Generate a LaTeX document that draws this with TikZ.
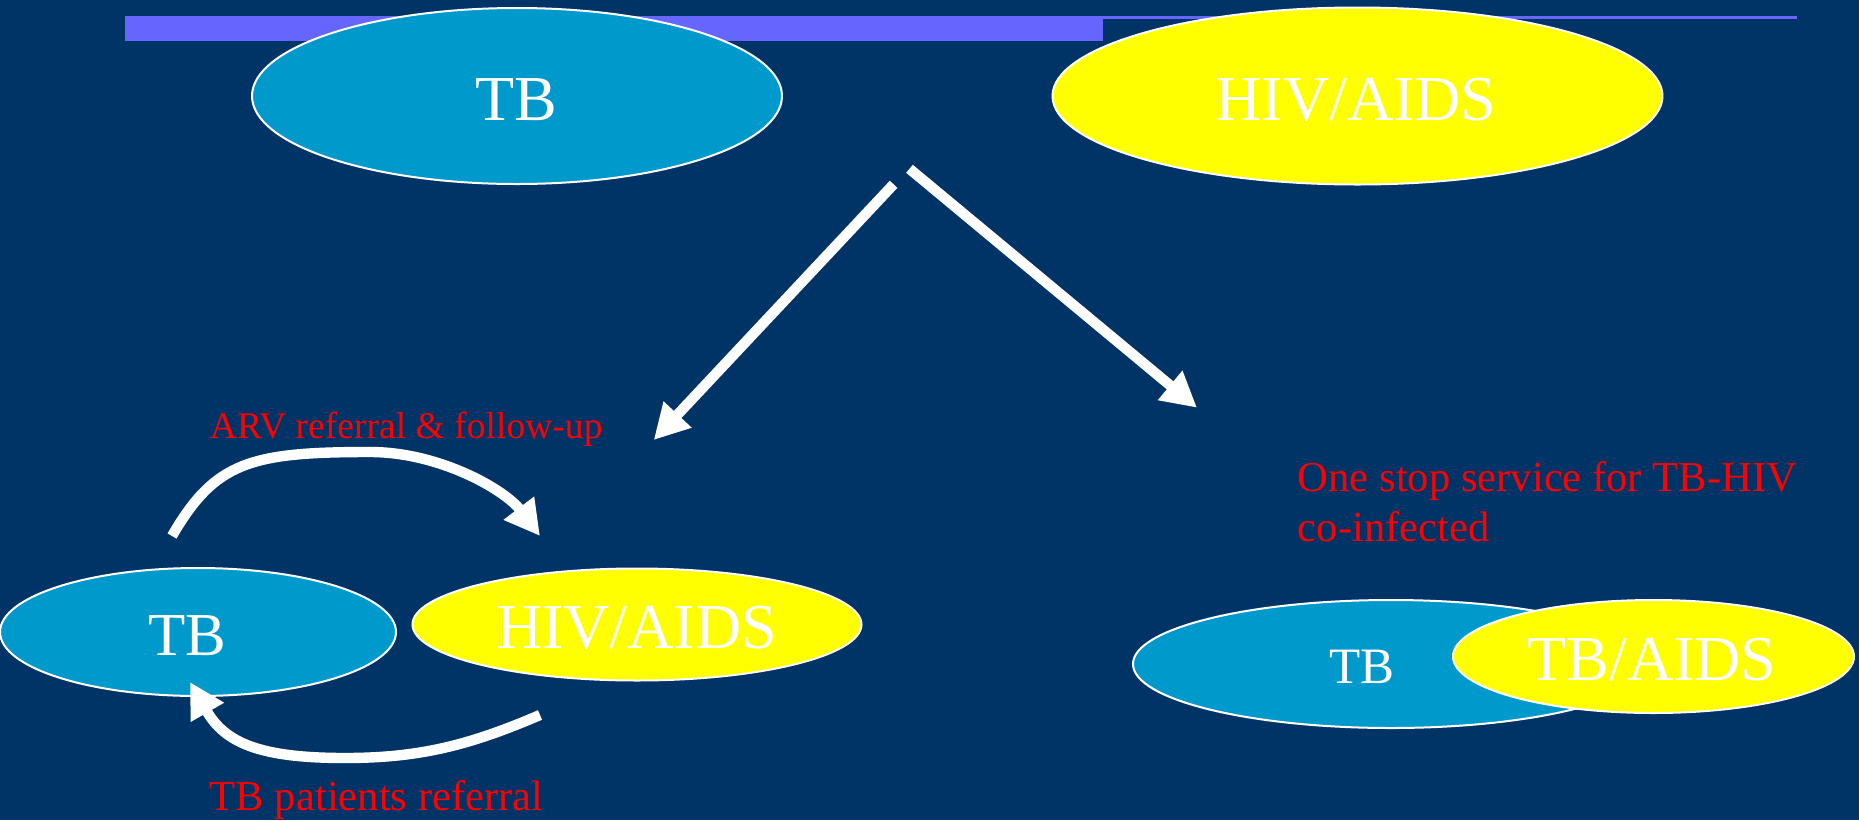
\documentclass[tikz,border=0pt]{standalone}
\usepackage{fontspec}
\setmainfont{Liberation Serif}
\usetikzlibrary{shapes.geometric,arrows.meta}
\definecolor{bg}{RGB}{0,51,102}
\definecolor{barblue}{RGB}{102,102,255}
\definecolor{tbblue}{RGB}{0,153,204}
\definecolor{hivyellow}{RGB}{255,255,0}
\definecolor{redtext}{RGB}{255,0,0}
\begin{document}
\begin{tikzpicture}[x=0.5pt,y=-0.5pt,
  disease/.style={ellipse, draw=white, line width=1pt, inner sep=0pt},
  bigtext/.style={text=white, font=\fontsize{32}{36}\selectfont, anchor=base, inner sep=0pt},
  rednote/.style={text=redtext, anchor=base west, inner sep=0pt},
  flow/.style={draw=white, line width=5.2pt, -{Triangle[width=18pt,length=17.5pt]}}]
\fill[bg] (0,0) rectangle (1859,820);
\useasboundingbox (0,0) rectangle (1859,820);
% title bar
\fill[barblue] (124.5,16) rectangle (1102.5,40.5);
\fill[barblue] (1102.5,16) rectangle (1797,18.5);
% top ellipses
\node[disease, fill=tbblue, minimum width=265pt, minimum height=88pt] (tb1) at (517,96) {};
\node[disease, fill=hivyellow, minimum width=305pt, minimum height=88.5pt] (hiv1) at (1357.5,96) {};
\node[bigtext] (tb1t) at (516,120) {TB};
\node[bigtext] (hiv1t) at (1356,120) {HIV/AIDS};
% bottom left
\node[disease, fill=tbblue, minimum width=198pt, minimum height=64pt] (tb2) at (198,632) {};
\node[disease, fill=hivyellow, minimum width=224.5pt, minimum height=56pt] (hiv2) at (637,624.5) {};
\node[bigtext, font=\fontsize{30.5}{36}\selectfont] (tb2t) at (187,655) {TB};
\node[bigtext] (hiv2t) at (636.5,648) {HIV/AIDS};
% bottom right
\node[disease, fill=tbblue, minimum width=258pt, minimum height=64pt] (tb3) at (1391,664) {};
\node[disease, fill=hivyellow, minimum width=200.5pt, minimum height=56.5pt] (hiv3) at (1653.5,656.5) {};
\node[bigtext, font=\fontsize{25.5}{30}\selectfont] (tb3t) at (1362,683) {TB};
\node[bigtext] (hiv3t) at (1652,680) {TB/AIDS};
% red labels
\node[rednote, font=\fontsize{18.8}{22}\selectfont] (arv) at (209.5,438) {ARV referral \& follow-up};
\node[rednote, font=\fontsize{21.3}{25}\selectfont] (tbref) at (209.5,810) {TB patients referral};
\node[rednote, font=\fontsize{21.3}{25}\selectfont] (onestopa) at (1297.5,491) {One stop service for TB-HIV};
\node[rednote, font=\fontsize{21.3}{25}\selectfont] (onestopb) at (1297.5,541.5) {co-infected};
% straight arrows
\coordinate (splitL) at (893.6,184.3);
\coordinate (splitR) at (909.5,168.8);
\coordinate (leftTip) at (653.7,440);
\coordinate (rightTip) at (1197,407.7);
\draw[flow] (splitL) -- (leftTip);
\draw[flow] (splitR) -- (rightTip);
% curved arrows
\coordinate (arvStart) at (172,536);
\coordinate (arvEnd) at (540,536);
\draw[flow] (arvStart) .. controls (215,462) and (250,452) .. (370,452)
  .. controls (440,452) and (505,490) .. (arvEnd);
\coordinate (refStart) at (540,715);
\coordinate (refEnd) at (190,682);
\draw[flow] (refStart) .. controls (470,745) and (420,758) .. (345,758)
  .. controls (260,758) and (225,743) .. (refEnd);
\end{tikzpicture}
\end{document}
